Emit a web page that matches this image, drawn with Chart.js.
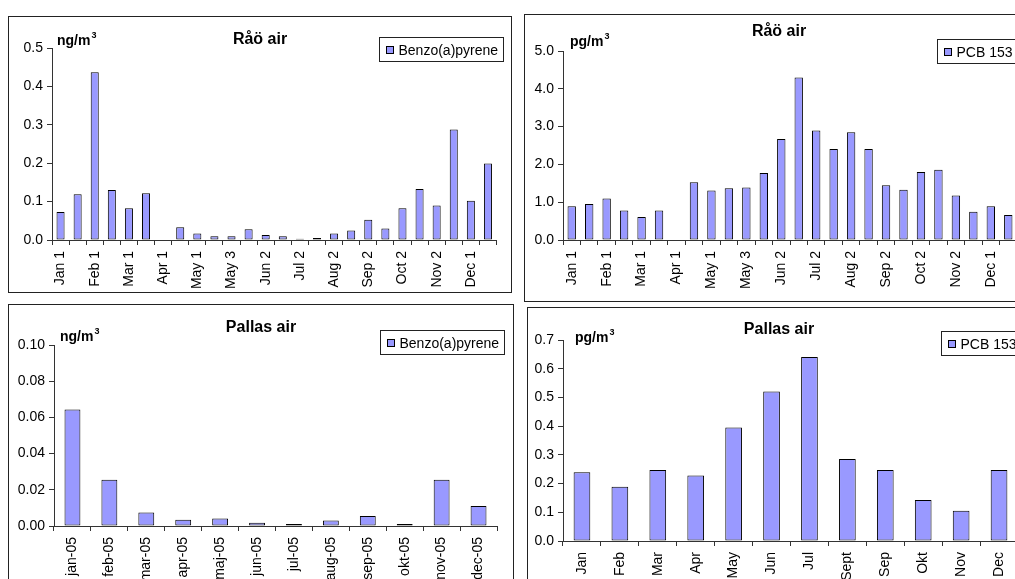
<!DOCTYPE html>
<html>
<head>
<meta charset="utf-8">
<script src="https://cdn.jsdelivr.net/npm/chart.js@4"></script>
<style>
  html, body { margin: 0; padding: 0; background: #fff; overflow: hidden; width: 1015px; height: 579px; }
  .panel { position: absolute; border: 1px solid #222; background: #fff; }
  .panel canvas { display: block; }
</style>
</head>
<body>
<div class="panel" style="left:8px;top:16px;width:502px;height:275px"><canvas id="c1"></canvas></div>
<div class="panel" style="left:524px;top:14px;width:508px;height:286px"><canvas id="c2"></canvas></div>
<div class="panel" style="left:8px;top:304px;width:504px;height:290px"><canvas id="c3"></canvas></div>
<div class="panel" style="left:527px;top:307px;width:502px;height:290px"><canvas id="c4"></canvas></div>
<script>
// Råö: samples, only every other one labelled
const raoLabels = ['Jan 1', '', 'Feb 1', '', 'Mar 1', '', 'Apr 1', '', 'May 1', '', 'May 3', '', 'Jun 2', '',
  'Jul 2', '', 'Aug 2', '', 'Sep 2', '', 'Oct 2', '', 'Nov 2', '', 'Dec 1', ''];
const raoBap = [0.073, 0.119, 0.437, 0.130, 0.083, 0.122, null, 0.033, 0.017, 0.010, 0.010, 0.028, 0.013, 0.010,
  0.003, 0.005, 0.017, 0.025, 0.053, 0.030, 0.083, 0.133, 0.090, 0.288, 0.102, 0.199];
const raoPcb = [0.89, 0.95, 1.10, 0.78, 0.61, 0.78, null, 1.53, 1.31, 1.37, 1.39, 1.77, 2.67, 4.30,
  2.90, 2.41, 2.85, 2.41, 1.45, 1.33, 1.80, 1.86, 1.18, 0.75, 0.89, 0.66];

// Pallas: monthly
const pallasBapLabels = ['jan-05', 'feb-05', 'mar-05', 'apr-05', 'maj-05', 'jun-05', 'jul-05', 'aug-05',
  'sep-05', 'okt-05', 'nov-05', 'dec-05'];
const pallasBap = [0.0644, 0.0256, 0.0074, 0.0035, 0.0042, 0.0018, 0.0011, 0.0030, 0.0055, 0.0011, 0.0256, 0.0110];
const pallasPcbLabels = ['Jan', 'Feb', 'Mar', 'Apr', 'May', 'Jun', 'Jul', 'Sept', 'Sep', 'Okt', 'Nov', 'Dec'];
const pallasPcb = [0.239, 0.189, 0.247, 0.228, 0.395, 0.521, 0.641, 0.286, 0.247, 0.143, 0.105, 0.247];

const FONT = '"Liberation Sans", Arial, sans-serif';
const AXIS = '#333';

// title, unit label (with superscript 3) and framed legend, Excel style
const decor = {
  id: 'decor',
  afterDraw(chart, args, o) {
    const ctx = chart.ctx;
    const a = chart.chartArea;
    ctx.save();
    ctx.fillStyle = '#000';
    ctx.textBaseline = 'alphabetic';

    ctx.font = 'bold 16px ' + FONT;
    ctx.textAlign = 'center';
    ctx.fillText(o.title, chart.width / 2, o.titleY);

    ctx.font = 'bold 14px ' + FONT;
    ctx.textAlign = 'left';
    const ux = a.left + o.unitDx;
    const uy = a.top + o.unitDy;
    ctx.fillText(o.unit, ux, uy);
    const uw = ctx.measureText(o.unit).width;
    ctx.font = 'bold 9px ' + FONT;
    ctx.fillText('3', ux + uw + 1, uy - 7);

    ctx.font = '14px ' + FONT;
    const tw = ctx.measureText(o.legend).width;
    const lx = Math.round(o.legX) + 0.5, ly = Math.round(o.legY) + 0.5;
    const lw = Math.round(19 + tw + 5), lh = 24;
    ctx.lineWidth = 1;
    ctx.strokeStyle = '#222';
    ctx.strokeRect(lx, ly, lw, lh);
    ctx.fillStyle = '#9999ff';
    ctx.fillRect(lx + 7, ly + 9, 7, 7);
    ctx.strokeStyle = '#000';
    ctx.strokeRect(lx + 7, ly + 9, 7, 7);
    ctx.fillStyle = '#000';
    ctx.fillText(o.legend, lx + 19, ly + 17);
    ctx.restore();
  }
};

function barChart(id, labels, values, cfg) {
  new Chart(document.getElementById(id), {
    type: 'bar',
    data: {
      labels: labels,
      datasets: [{
        label: cfg.legend,
        data: values,
        backgroundColor: '#9999ff',
        borderColor: '#000',
        borderWidth: 1,
        borderSkipped: false,
        barPercentage: cfg.barPct,
        categoryPercentage: 1
      }]
    },
    options: {
      responsive: true,
      maintainAspectRatio: false,
      animation: false,
      layout: { padding: { top: cfg.top, right: cfg.right, left: 0, bottom: 0 } },
      plugins: {
        legend: { display: false },
        title: { display: false },
        tooltip: { enabled: false },
        decor: cfg.decor
      },
      scales: {
        x: {
          grid: { drawOnChartArea: false, offset: true, tickLength: 5, color: AXIS },
          border: { color: AXIS },
          ticks: { autoSkip: false, minRotation: 90, maxRotation: 90, padding: 6, color: '#000', font: { family: FONT, size: 14 } },
          afterFit: s => { s.height = cfg.xh; }
        },
        y: {
          min: 0,
          max: cfg.max,
          ticks: {
            stepSize: cfg.step,
            padding: 4,
            color: '#000',
            font: { family: FONT, size: 14 },
            callback: v => v.toFixed(cfg.dec)
          },
          grid: { drawOnChartArea: false, tickLength: 5, color: AXIS },
          border: { color: AXIS },
          afterFit: s => { s.width = cfg.yw; }
        }
      }
    },
    plugins: [decor]
  });
}

barChart('c1', raoLabels, raoBap, {
  legend: 'Benzo(a)pyrene', barPct: 0.47, max: 0.5, step: 0.1, dec: 1,
  top: 31, right: 13, yw: 43, xh: 52,
  decor: { title: 'Råö air', titleY: 27, unit: 'ng/m', unitDx: 5, unitDy: -3, legend: 'Benzo(a)pyrene', legX: 370, legY: 20 }
});
barChart('c2', raoLabels, raoPcb, {
  legend: 'PCB 153', barPct: 0.48, max: 5, step: 1, dec: 1,
  top: 36, right: 16, yw: 38, xh: 61,
  decor: { title: 'Råö air', titleY: 21, unit: 'pg/m', unitDx: 7, unitDy: -5, legend: 'PCB 153', legX: 412, legY: 24 }
});
barChart('c3', pallasBapLabels, pallasBap, {
  legend: 'Benzo(a)pyrene', barPct: 0.43, max: 0.1, step: 0.02, dec: 2,
  top: 40, right: 16, yw: 45, xh: 69,
  decor: { title: 'Pallas air', titleY: 27, unit: 'ng/m', unitDx: 6, unitDy: -4, legend: 'Benzo(a)pyrene', legX: 371, legY: 25 }
});
barChart('c4', pallasPcbLabels, pallasPcb, {
  legend: 'PCB 153', barPct: 0.44, max: 0.7, step: 0.1, dec: 1,
  top: 32, right: 12, yw: 35, xh: 57,
  decor: { title: 'Pallas air', titleY: 26, unit: 'pg/m', unitDx: 12, unitDy: 2, legend: 'PCB 153', legX: 413, legY: 23 }
});
</script>
</body>
</html>
